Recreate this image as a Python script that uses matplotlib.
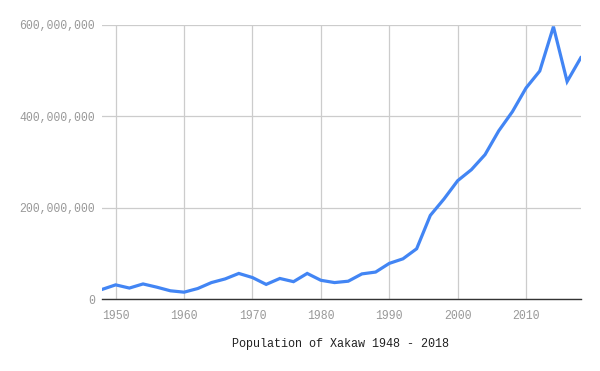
import matplotlib
matplotlib.use("Agg")
import matplotlib.pyplot as plt
from matplotlib.ticker import FuncFormatter

years = list(range(1948, 2019, 2))
population = [
    21e6, 31e6, 24e6, 33e6, 26e6, 18e6, 15e6, 23e6, 36e6, 44e6,
    56e6, 47e6, 32e6, 45e6, 38e6, 56e6, 41e6, 36e6, 39e6, 55e6,
    59e6, 78e6, 88e6, 110e6, 183e6, 219e6, 259e6, 283e6, 316e6, 368e6,
    410e6, 462e6, 499e6, 596e6, 476e6, 528e6,
]
x_ticks = [1950, 1960, 1970, 1980, 1990, 2000, 2010]
y_ticks = [0, 200e6, 400e6, 600e6]
title = "Population of Xakaw 1948 - 2018"

plt.rcParams['font.family'] = ['Liberation Mono', 'DejaVu Sans Mono']

fig = plt.figure(figsize=(6, 3.71), dpi=100)
ax = fig.add_axes([0.17, 0.194, 0.798, 0.739])

ax.plot(years, population, color='#4285F4', linewidth=2.3, solid_joinstyle='miter')

ax.set_xlim(1948, 2018)
ax.set_ylim(0, 600e6)
ax.set_xticks(x_ticks)
ax.set_yticks(y_ticks)
ax.yaxis.set_major_formatter(FuncFormatter(lambda v, p: f"{int(v):,}"))
ax.tick_params(axis='y', length=0, labelsize=8.3, labelcolor='#999999', pad=5)
ax.tick_params(axis='x', length=0, labelsize=8.3, labelcolor='#999999', pad=8)
ax.grid(True, color='#cccccc', linewidth=0.9)
ax.set_axisbelow(True)

for s in ['top', 'right', 'left']:
    ax.spines[s].set_visible(False)
ax.spines['bottom'].set_color('#333333')
ax.spines['bottom'].set_linewidth(1.0)

fig.text(0.568, 0.072, title, ha='center', va='center', fontsize=8.5, color='#222222')

fig.savefig("out.png", dpi=100)
